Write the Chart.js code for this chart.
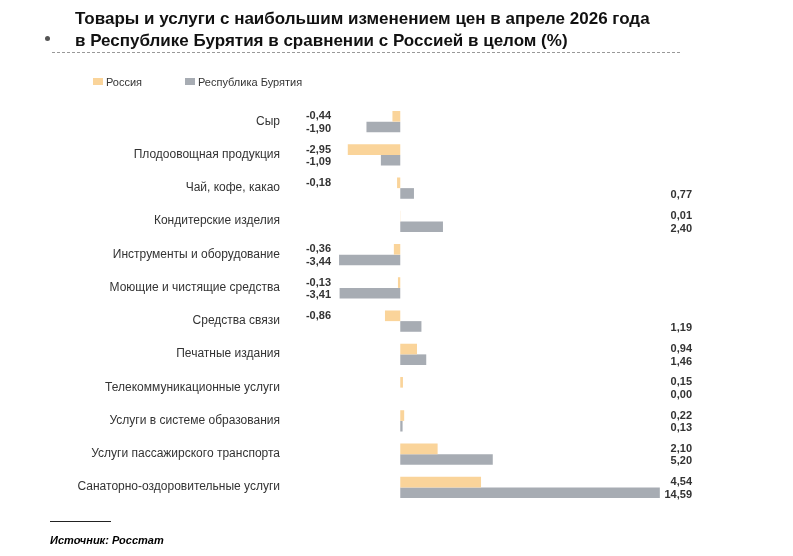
<!DOCTYPE html>
<html><head><meta charset="utf-8">
<script src="https://cdn.jsdelivr.net/npm/chart.js@4/dist/chart.umd.min.js"></script>
<style>
body{margin:0;background:#fff;font-family:"Liberation Sans",Arial,sans-serif;}
#wrap{position:relative;width:793px;height:556px;}
canvas{position:absolute;left:0;top:0;}
.t{position:absolute;left:75px;top:8px;font-weight:bold;font-size:17px;line-height:22px;color:#111;}
.dash{position:absolute;left:52px;top:52px;width:628px;border-top:1px dashed #999;}
.dot{position:absolute;left:45px;top:36px;width:5px;height:5px;border-radius:50%;background:#555;}
.lg{position:absolute;top:76px;font-size:11px;color:#333;}
.lg i{display:inline-block;width:10px;height:7px;margin-right:3px;vertical-align:1px;}
.src{position:absolute;left:50px;top:534px;font-size:11px;font-weight:bold;font-style:italic;}
.srcl{position:absolute;left:50px;top:521px;width:61px;border-top:1px solid #222;}
</style></head><body>
<div id="wrap">
<canvas id="c" width="793" height="556"></canvas>
<div class="dot"></div>
<div class="t">Товары и услуги с наибольшим изменением цен в апреле 2026 года<br>в Республике Бурятия в сравнении с Россией в целом (%)</div>
<div class="dash"></div>
<div class="lg" style="left:93px"><i style="background:#FAD49A"></i>Россия</div>
<div class="lg" style="left:185px"><i style="background:#A7ACB3"></i>Республика Бурятия</div>
<div class="srcl"></div>
<div class="src">Источник: Росстат</div>
</div>
<script>
const categories = ['Сыр','Плодоовощная продукция','Чай, кофе, какао','Кондитерские изделия','Инструменты и оборудование','Моющие и чистящие средства','Средства связи','Печатные издания','Телекоммуникационные услуги','Услуги в системе образования','Услуги пассажирского транспорта','Санаторно-оздоровительные услуги'];
const russia = [-0.44,-2.95,-0.18,0.01,-0.36,-0.13,-0.86,0.94,0.15,0.22,2.10,4.54];
const buryatia = [-1.90,-1.09,0.77,2.40,-3.44,-3.41,1.19,1.46,0.00,0.13,5.20,14.59];

const fmt = v => v.toFixed(2).replace('.', ',');

const labelsPlugin = {
  id: 'labels',
  afterDatasetsDraw(chart) {
    const ctx = chart.ctx;
    ctx.save();
    ctx.textBaseline = 'middle';
    ctx.fillStyle = '#333';
    ctx.font = '12px "Liberation Sans", Arial';
    ctx.textAlign = 'right';
    const m0 = chart.getDatasetMeta(0);
    m0.data.forEach((b, i) => {
      ctx.fillText(categories[i], 280, b.y + 5);
    });
    ctx.font = 'bold 11px "Liberation Sans", Arial';
    chart.data.datasets.forEach((ds, di) => {
      chart.getDatasetMeta(di).data.forEach((b, i) => {
        const v = ds.data[i];
        const y = b.y + (di === 1 ? 2 : 0);
        if (v < 0) { ctx.textAlign = 'right'; ctx.fillText(fmt(v), 331, y); }
        else { ctx.textAlign = 'right'; ctx.fillText(fmt(v), 692, y); }
      });
    });
    ctx.restore();
  }
};

new Chart(document.getElementById('c'), {
  type: 'bar',
  data: {
    labels: categories,
    datasets: [
      { label: 'Россия', data: russia, backgroundColor: '#FAD49A', barPercentage: 1, categoryPercentage: 0.64 },
      { label: 'Республика Бурятия', data: buryatia, backgroundColor: '#A7ACB3', barPercentage: 1, categoryPercentage: 0.64 }
    ]
  },
  options: {
    indexAxis: 'y',
    responsive: false,
    animation: false,
    layout: { padding: { left: 338, right: 133, top: 105, bottom: 52 } },
    scales: {
      x: { min: -3.5, max: 14.6, display: false },
      y: { display: false }
    },
    plugins: { legend: { display: false }, tooltip: { enabled: false } }
  },
  plugins: [labelsPlugin]
});
</script>
</body></html>
